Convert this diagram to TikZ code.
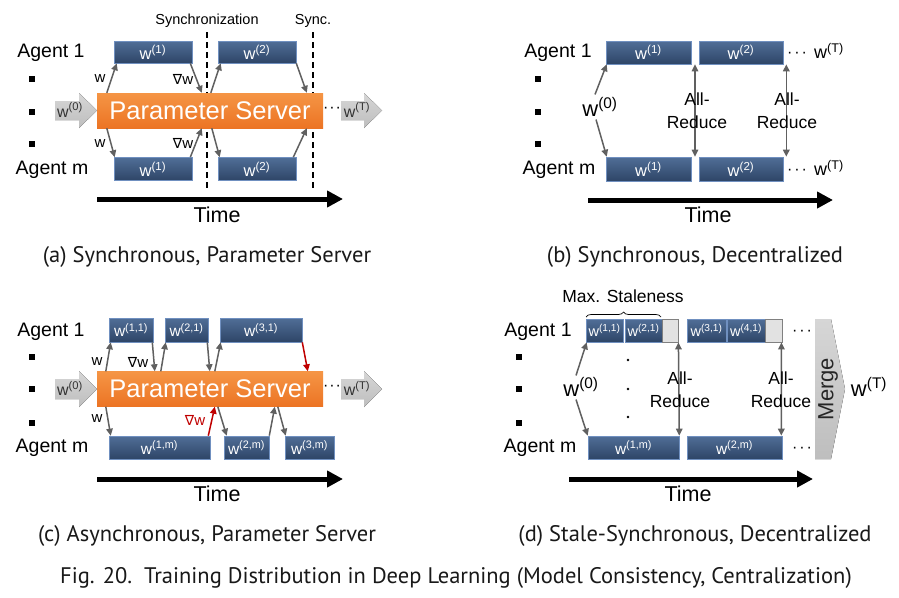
\documentclass[tikz,border=0pt]{standalone}
\usepackage{fontspec}
\usetikzlibrary{arrows.meta,calc,decorations.pathreplacing}
\newfontfamily\sansf{Liberation Sans}
\newfontfamily\symf{DejaVu Sans}
\newfontfamily\capf{PT Sans}
\definecolor{boxtop}{HTML}{506E97}
\definecolor{boxbot}{HTML}{2E4567}
\definecolor{boxedge}{HTML}{7090C0}
\definecolor{psTop}{HTML}{F59545}
\definecolor{psBot}{HTML}{EC7424}
\definecolor{arrgray}{HTML}{606060}
\definecolor{blkTop}{HTML}{D6D6D6}
\definecolor{blkBot}{HTML}{BEBEBE}
\definecolor{staleg}{HTML}{E2E2E2}
\definecolor{redarr}{HTML}{C00000}
\begin{document}
\begin{tikzpicture}[x=1pt,y=-1pt,
  agent/.style={font=\sansf\fontsize{19.5}{22}\selectfont, inner sep=0pt},
  bul/.style={fill=black, minimum size=6pt, inner sep=0pt},
  psbox/.style={minimum width=226pt, minimum height=35pt, inner sep=0pt, top color=psTop, bottom color=psBot, draw=none, text=white, font=\sansf\fontsize{25.5}{28}\selectfont},
  wbox/.style={draw=boxedge, line width=0.6pt, top color=boxtop, bottom color=boxbot, text=white, inner sep=0pt, font=\sansf\fontsize{16.5}{18}\selectfont},
  wboxs/.style={wbox, font=\sansf\fontsize{14.5}{16}\selectfont},
  wboxc/.style={wbox, font=\sansf\fontsize{15.5}{17}\selectfont},
  gbox/.style={draw=gray, line width=0.8pt, fill=staleg, inner sep=0pt},
  garr/.style={draw=arrgray, line width=1.5pt, -{Triangle[length=7pt,width=6.5pt]}},
  rarr/.style={draw=redarr, line width=1.5pt, -{Triangle[length=7pt,width=6.5pt]}},
  darr/.style={draw=arrgray, line width=1.5pt, {Triangle[length=7pt,width=6.5pt]}-{Triangle[length=7pt,width=6.5pt]}},
  lbl/.style={font=\sansf\fontsize{15}{17}\selectfont, inner sep=0pt},
  blk/.style={top color=blkTop, bottom color=blkBot, draw=none},
  blktxt/.style={font=\sansf\fontsize{16}{18}\selectfont, text=black!80, inner sep=0pt},
  big/.style={font=\sansf\fontsize{22}{24}\selectfont, inner sep=0pt},
  ar/.style={font=\sansf\fontsize{17.5}{23}\selectfont, align=center, inner sep=0pt},
  dotsn/.style={font=\sansf\fontsize{16}{18}\selectfont, inner sep=0pt},
  timearrow/.style={line width=5pt, -{Triangle[length=16pt,width=16pt]}},
  timetxt/.style={font=\sansf\fontsize{21.5}{24}\selectfont, inner sep=0pt},
  synctxt/.style={font=\sansf\fontsize{14.5}{16}\selectfont, inner sep=0pt},
  syncline/.style={line width=2pt, dash pattern=on 6pt off 4pt},
  subcap/.style={font=\capf\fontsize{22.5}{26}\selectfont, text=black!90, inner sep=0pt}
]
\useasboundingbox[fill=white] (0,0) rectangle (899,597);

% ================= (a) =================
\node[synctxt] (a-synct) at (207,21) {Synchronization};
\node[synctxt] (a-synct2) at (313,21) {Sync.};
\coordinate (a-s1t) at (207,32); \coordinate (a-s1b) at (207,189);
\coordinate (a-s2t) at (313,32); \coordinate (a-s2b) at (313,189);
\draw[syncline] (a-s1t) -- (a-s1b);
\draw[syncline] (a-s2t) -- (a-s2b);
\node[agent] (a-ag1) at (51,53) {Agent 1};
\node[agent] (a-agm) at (52,170) {Agent m};
\node[bul] (a-b1) at (32,79) {};
\node[bul] (a-b2) at (32,112) {};
\node[bul] (a-b3) at (32,144) {};
\node[psbox] (a-ps) at (210,110.5) {Parameter Server};
\node[wbox, minimum width=78pt, minimum height=22pt] (a-t1) at (153,52) {w\textsuperscript{(1)}};
\node[wbox, minimum width=78pt, minimum height=22pt] (a-t2) at (257,52) {w\textsuperscript{(2)}};
\node[wbox, minimum width=78pt, minimum height=23pt] (a-m1) at (153,169) {w\textsuperscript{(1)}};
\node[wbox, minimum width=78pt, minimum height=23pt] (a-m2) at (257,169) {w\textsuperscript{(2)}};
\fill[blk] (55,101) -- (79,101) -- (79,93) -- (97,110.5) -- (79,128) -- (79,120) -- (55,120) -- cycle;
\node[blktxt] (a-w0) at (70,110) {w\textsuperscript{(0)}};
\fill[blk] (341,101) -- (364,101) -- (364,93) -- (382,110.5) -- (364,128) -- (364,120) -- (341,120) -- cycle;
\node[blktxt] (a-wT) at (357,110) {w\textsuperscript{(T)}};
\node[dotsn] (a-dots) at (332,110) {·\kern1pt·\kern1pt·};
\draw[garr] ($(a-ps.north west)+(10,0)$) -- ($(a-t1.south west)+(3,0)$);
\draw[garr] ($(a-t1.south east)+(-2,0)$) -- ($(a-ps.north west)+(105,0)$);
\draw[garr] ($(a-ps.north west)+(114,0)$) -- ($(a-t2.south west)+(3,0)$);
\draw[garr] ($(a-t2.south east)+(0,0)$) -- ($(a-ps.north west)+(210,0)$);
\draw[garr] ($(a-ps.south west)+(10,0)$) -- ($(a-m1.north west)+(1,0)$);
\draw[garr] ($(a-m1.north east)+(-2,0)$) -- ($(a-ps.south west)+(105,0)$);
\draw[garr] ($(a-ps.south west)+(115,0)$) -- ($(a-m2.north west)+(2,0)$);
\draw[garr] ($(a-m2.north east)+(-3,0)$) -- ($(a-ps.south west)+(210,0)$);
\node[lbl] (a-l1) at (100,79) {w};
\node[lbl] (a-l2) at (183,79) {{\symf\fontsize{14}{16}\selectfont ∇}w};
\node[lbl] (a-l3) at (100,144) {w};
\node[lbl] (a-l4) at (183,143) {{\symf\fontsize{14}{16}\selectfont ∇}w};
\coordinate (a-ta0) at (97,199); \coordinate (a-ta1) at (343,199);
\draw[timearrow] (a-ta0) -- (a-ta1);
\node[timetxt] (a-time) at (217,215) {Time};
\node[subcap] (a-cap) at (207,257) {(a) Synchronous, Parameter Server};

% ================= (b) =================
\node[agent] (b-ag1) at (558,53) {Agent 1};
\node[agent] (b-agm) at (559,170) {Agent m};
\node[bul] (b-b1) at (538,79) {};
\node[bul] (b-b2) at (538,112) {};
\node[bul] (b-b3) at (538,144) {};
\node[wbox, minimum width=85pt, minimum height=23pt] (b-t1) at (648.5,52.5) {w\textsuperscript{(1)}};
\node[wbox, minimum width=84pt, minimum height=23pt] (b-t2) at (741,52.5) {w\textsuperscript{(2)}};
\node[wbox, minimum width=85pt, minimum height=24pt] (b-m1) at (648.5,169) {w\textsuperscript{(1)}};
\node[wbox, minimum width=84pt, minimum height=24pt] (b-m2) at (741,169) {w\textsuperscript{(2)}};
\node[dotsn] (b-d1) at (797,55) {·\kern2pt·\kern2pt·};
\node[dotsn] (b-d2) at (797,172) {·\kern2pt·\kern2pt·};
\node[big, font=\sansf\fontsize{18}{20}\selectfont] (b-wT1) at (829,51) {w\textsuperscript{(T)}};
\node[big, font=\sansf\fontsize{18}{20}\selectfont] (b-wT2) at (829,168) {w\textsuperscript{(T)}};
\node[big] (b-w0) at (600,107) {w\textsuperscript{(0)}};
\draw[garr] ($(b-w0.north)+(-5,-3)$) -- ($(b-t1.south west)+(1,0)$);
\draw[garr] ($(b-w0.south)+(-4,3)$) -- ($(b-m1.north west)+(1,0)$);
\draw[darr] ($(b-t1.south east)!0.5!(b-t2.south west)$) -- ($(b-m1.north east)!0.5!(b-m2.north west)$);
\draw[darr] ($(b-t2.south east)+(3,0)$) -- ($(b-m2.north east)+(3,0)$);
\node[ar] (b-ar1) at (697,111) {All-\\Reduce};
\node[ar] (b-ar2) at (787,111) {All-\\Reduce};
\coordinate (b-ta0) at (588,200); \coordinate (b-ta1) at (833,200);
\draw[timearrow] (b-ta0) -- (b-ta1);
\node[timetxt] (b-time) at (708,215) {Time};
\node[subcap] (b-cap) at (695,257) {(b) Synchronous, Decentralized};

% ================= (c) =================
\node[agent] (c-ag1) at (51,332) {Agent 1};
\node[agent] (c-agm) at (52,448) {Agent m};
\node[bul] (c-b1) at (32,357) {};
\node[bul] (c-b2) at (32,389) {};
\node[bul] (c-b3) at (32,423) {};
\node[psbox] (c-ps) at (210,389) {Parameter Server};
\node[wboxc, minimum width=44pt, minimum height=24pt] (c-t1) at (131,330) {w\textsuperscript{(1,1)}};
\node[wboxc, minimum width=43pt, minimum height=24pt] (c-t2) at (186.5,330) {w\textsuperscript{(2,1)}};
\node[wboxc, minimum width=82pt, minimum height=24pt] (c-t3) at (261,330) {w\textsuperscript{(3,1)}};
\node[wboxc, minimum width=101pt, minimum height=23pt] (c-m1) at (159.5,447.5) {w\textsuperscript{(1,m)}};
\node[wboxc, minimum width=45pt, minimum height=23pt] (c-m2) at (246.5,447.5) {w\textsuperscript{(2,m)}};
\node[wboxc, minimum width=49pt, minimum height=23pt] (c-m3) at (309.5,447.5) {w\textsuperscript{(3,m)}};
\fill[blk] (55,379) -- (79,379) -- (79,371) -- (97,389) -- (79,407) -- (79,399) -- (55,399) -- cycle;
\node[blktxt] (c-w0) at (70,388.5) {w\textsuperscript{(0)}};
\fill[blk] (341,379) -- (364,379) -- (364,371) -- (382,389) -- (364,407) -- (364,399) -- (341,399) -- cycle;
\node[blktxt] (c-wT) at (357,388.5) {w\textsuperscript{(T)}};
\node[dotsn] (c-dots) at (332,388) {·\kern1pt·\kern1pt·};
\draw[garr] ($(c-ps.north west)+(9,0)$) -- ($(c-t1.south west)+(2,0)$);
\draw[garr] ($(c-t1.south east)+(-1,0)$) -- ($(c-ps.north west)+(58,0)$);
\draw[garr] ($(c-ps.north west)+(64,0)$) -- ($(c-t2.south west)+(1,0)$);
\draw[garr] ($(c-t2.south east)+(-1,0)$) -- ($(c-ps.north west)+(113,0)$);
\draw[garr] ($(c-ps.north west)+(118,0)$) -- ($(c-t3.south west)+(1,0)$);
\draw[rarr] ($(c-t3.south east)+(0,0)$) -- ($(c-ps.north west)+(211,0)$);
\draw[garr] ($(c-ps.south west)+(9,0)$) -- ($(c-m1.north west)+(2,0)$);
\draw[rarr] ($(c-m1.north east)+(-2,0)$) -- ($(c-ps.south west)+(118,0)$);
\draw[garr] ($(c-ps.south west)+(121,0)$) -- ($(c-m2.north west)+(3,0)$);
\draw[garr] ($(c-m2.north east)+(0,0)$) -- ($(c-ps.south west)+(178,0)$);
\draw[garr] ($(c-ps.south west)+(181,0)$) -- ($(c-m3.north west)+(1,0)$);
\node[lbl] (c-l1) at (97,362) {w};
\node[lbl] (c-l2) at (138,362) {{\symf\fontsize{14}{16}\selectfont ∇}w};
\node[lbl] (c-l3) at (97,419) {w};
\node[lbl, text=redarr] (c-l4) at (195,420) {{\symf\fontsize{14}{16}\selectfont ∇}w};
\coordinate (c-ta0) at (97,479); \coordinate (c-ta1) at (343,479);
\draw[timearrow] (c-ta0) -- (c-ta1);
\node[timetxt] (c-time) at (217,494) {Time};
\node[subcap] (c-cap) at (207,536) {(c) Asynchronous, Parameter Server};

% ================= (d) =================
\node[synctxt, font=\sansf\fontsize{17.5}{20}\selectfont] (d-stale) at (623,296) {Max. Staleness};
\coordinate (d-br0) at (586,317); \coordinate (d-br1) at (661,317);
\draw[line width=0.7pt, decorate, decoration={brace, amplitude=5pt}] (d-br0) -- (d-br1);
\node[agent] (d-ag1) at (538,332) {Agent 1};
\node[agent] (d-agm) at (540,448) {Agent m};
\node[bul] (d-b1) at (519,357) {};
\node[bul] (d-b2) at (519,389) {};
\node[bul] (d-b3) at (519,423) {};
\node[wboxs, minimum width=37pt, minimum height=23pt] (d-t1) at (604.5,330.5) {w\textsuperscript{(1,1)}};
\node[wboxs, minimum width=37pt, minimum height=23pt] (d-t2) at (643.5,330.5) {w\textsuperscript{(2,1)}};
\node[gbox, minimum width=16pt, minimum height=23pt] (d-g1) at (670,330.5) {};
\node[wboxs, minimum width=39pt, minimum height=23pt] (d-t3) at (706.5,330.5) {w\textsuperscript{(3,1)}};
\node[wboxs, minimum width=38pt, minimum height=23pt] (d-t4) at (746,330.5) {w\textsuperscript{(4,1)}};
\node[gbox, minimum width=17pt, minimum height=23pt] (d-g2) at (773.5,330.5) {};
\node[wboxc, minimum width=91pt, minimum height=23pt] (d-m1) at (633.5,447.5) {w\textsuperscript{(1,m)}};
\node[wboxc, minimum width=95pt, minimum height=23pt] (d-m2) at (734.5,447.5) {w\textsuperscript{(2,m)}};
\node[dotsn] (d-d1) at (802,333) {·\kern2pt·\kern2pt·};
\node[dotsn] (d-d2) at (802,450) {·\kern2pt·\kern2pt·};
\fill[black] (628,360) circle (1.3pt) coordinate (d-v1);
\fill[black] (628,389) circle (1.3pt) coordinate (d-v2);
\fill[black] (628,417) circle (1.3pt) coordinate (d-v3);
\node[big] (d-w0) at (581,387) {w\textsuperscript{(0)}};
\draw[garr] ($(d-w0.north)+(-5,-2)$) -- ($(d-t1.south west)+(1,0)$);
\draw[garr] ($(d-w0.south)+(-5,3)$) -- ($(d-m1.north west)+(0,0)$);
\draw[darr] (d-g1.south east) -- (d-m1.north east);
\draw[darr] ($(d-g2.south east)+(-1,0)$) -- ($(d-m2.north east)+(-1,0)$);
\node[ar] (d-ar1) at (680,390) {All-\\Reduce};
\node[ar] (d-ar2) at (781,390) {All-\\Reduce};
\fill[blk] (815,319) -- (831,319) -- (845,389) -- (831,459) -- (815,459) -- cycle;
\node[big, rotate=90, text=black!85] (d-merge) at (828,389) {Merge};
\node[big] (d-wT) at (869,387) {w\textsuperscript{(T)}};
\coordinate (d-ta0) at (569,479); \coordinate (d-ta1) at (813,479);
\draw[timearrow] (d-ta0) -- (d-ta1);
\node[timetxt] (d-time) at (688,494) {Time};
\node[subcap] (d-cap) at (695,536) {(d) Stale-Synchronous, Decentralized};

% ================= Figure caption =================
\node[subcap] (figcap) at (456,578) {Fig. 20.\ \ Training Distribution in Deep Learning (Model Consistency, Centralization)};
\end{tikzpicture}
\end{document}
